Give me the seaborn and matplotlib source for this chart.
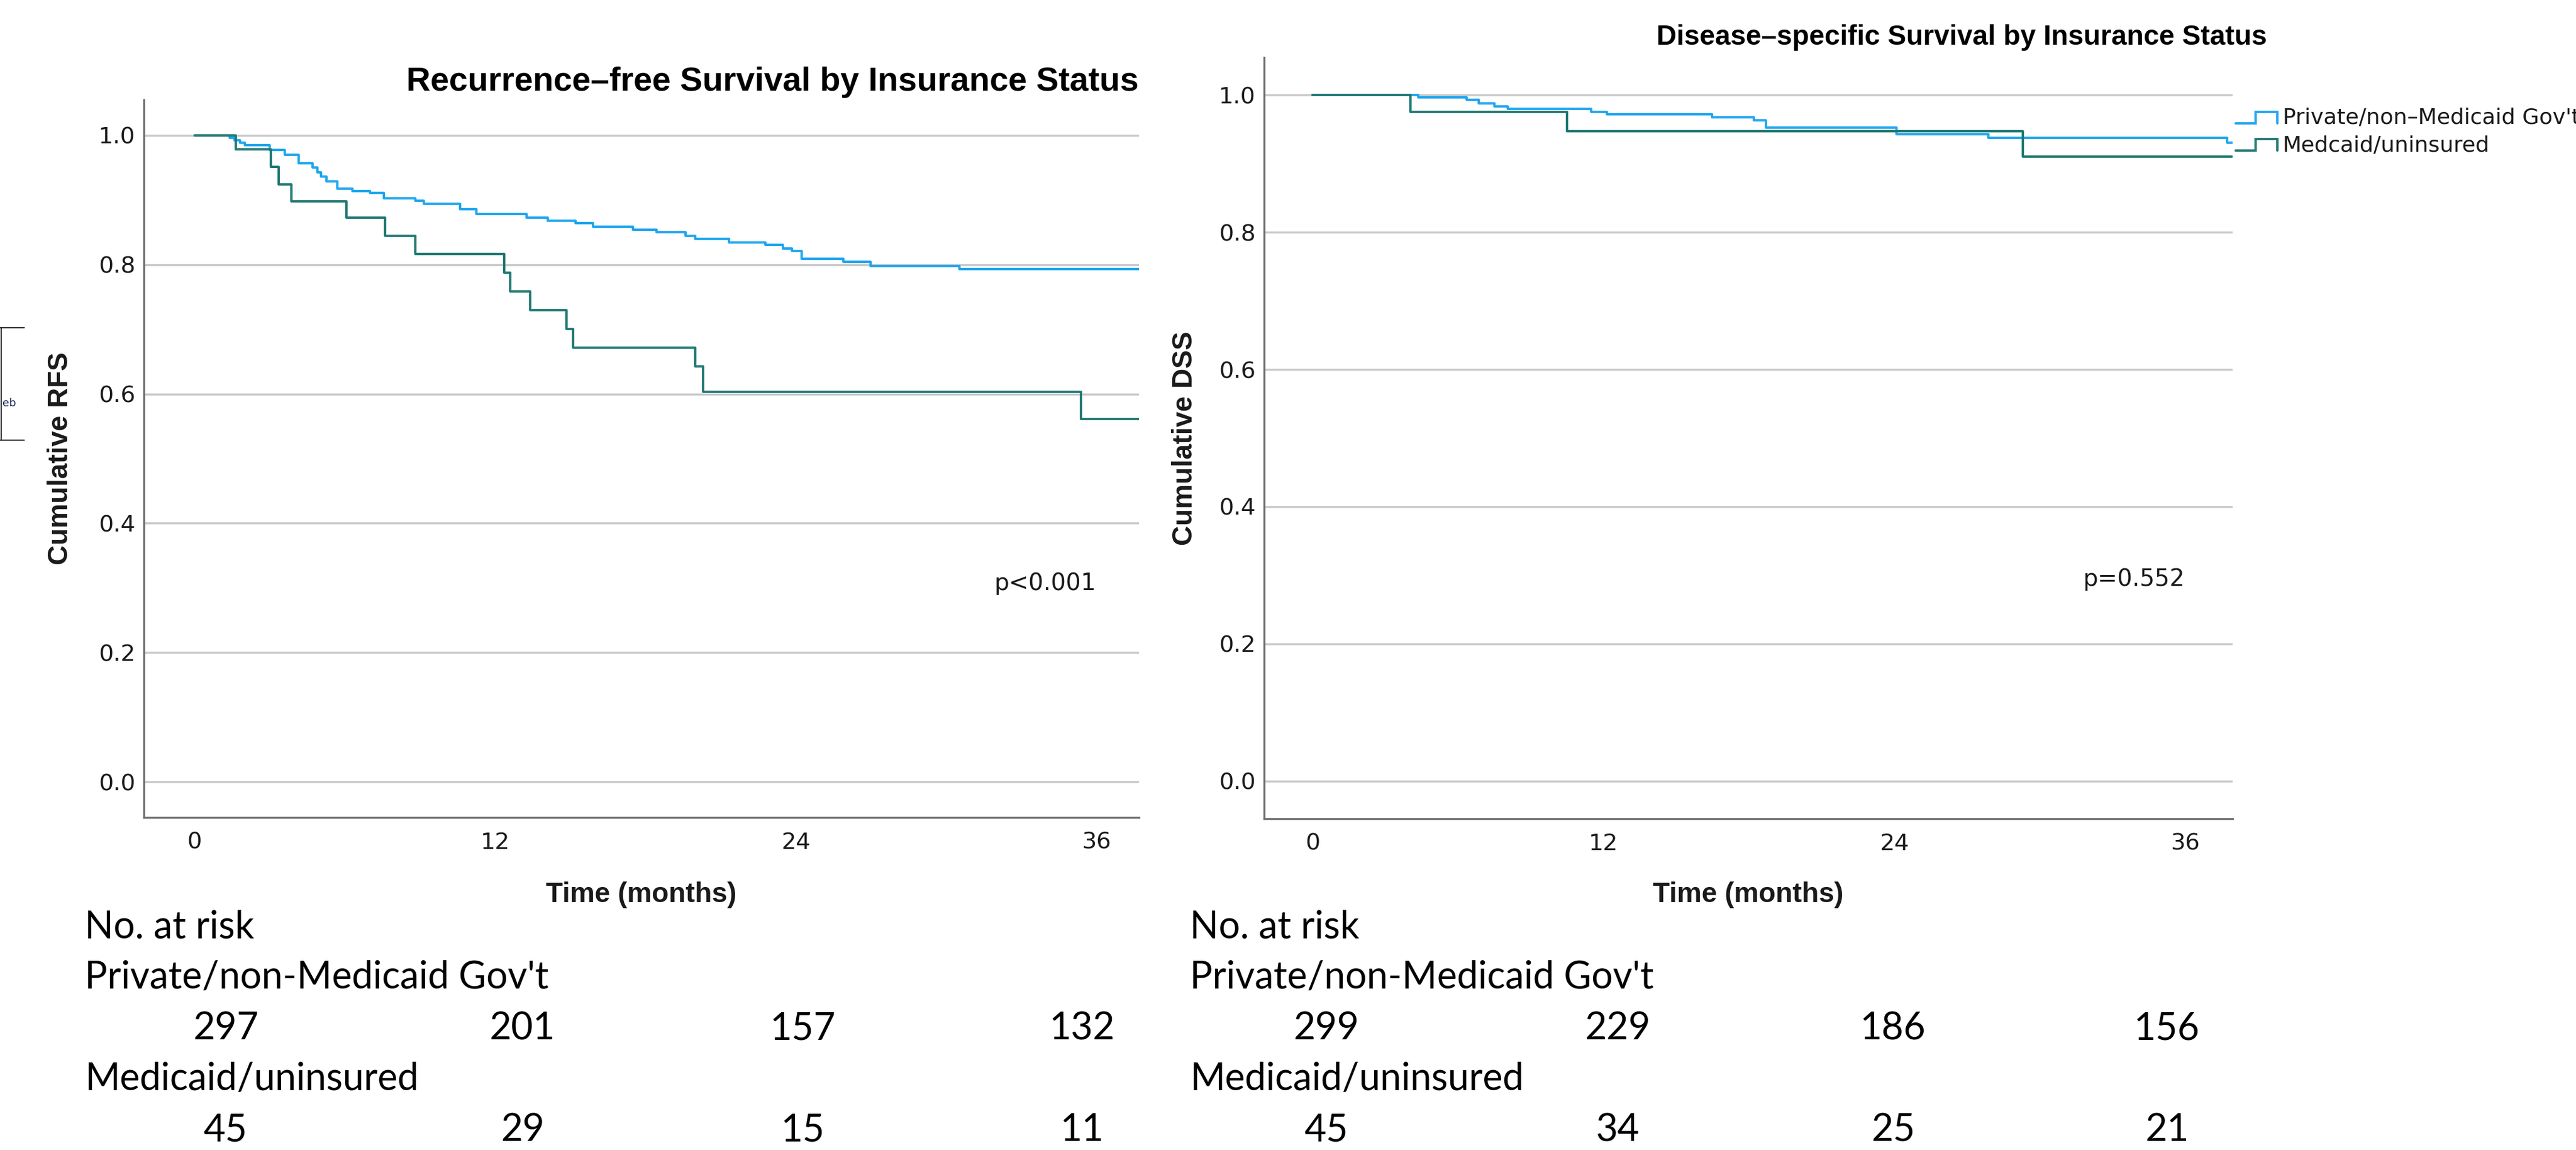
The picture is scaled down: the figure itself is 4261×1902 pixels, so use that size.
import numpy as np
import pandas as pd
import matplotlib
matplotlib.use("Agg")
import matplotlib.pyplot as plt
from matplotlib import font_manager
import seaborn as sns
from matplotlib.legend_handler import HandlerBase
from matplotlib.lines import Line2D

# ---------------- data ----------------
groups = ["Private/non-Medicaid Gov't", "Medicaid/uninsured"]
legend_labels = ["Private/non\u2013Medicaid Gov't", "Medcaid/uninsured"]

# Recurrence-free survival (step function: value holds from time[i] onward)
rfs_private_t = [0, 1.4, 1.6, 1.8, 2.0, 3.0, 3.6, 4.15, 4.7, 4.9, 5.05, 5.25, 5.7, 6.3,
                 7.0, 7.55, 8.8, 9.15, 10.6, 11.25, 13.25, 14.1, 15.2, 15.9, 17.5, 18.45,
                 19.6, 20.0, 21.35, 22.8, 23.5, 23.85, 24.25, 25.9, 27.0, 30.55, 37.7]
rfs_private_s = [1.0, 0.996, 0.992, 0.989, 0.985, 0.977, 0.970, 0.957, 0.950, 0.943, 0.936,
                 0.929, 0.918, 0.914, 0.911, 0.903, 0.899, 0.894, 0.886, 0.878, 0.873, 0.868,
                 0.864, 0.859, 0.854, 0.850, 0.845, 0.840, 0.834, 0.831, 0.825, 0.821, 0.809,
                 0.804, 0.798, 0.793, 0.793]
rfs_medicaid_t = [0, 1.65, 3.05, 3.35, 3.85, 6.05, 7.6, 8.8, 12.35, 12.6, 13.4, 14.85, 15.1,
                  20.0, 20.3, 35.4, 37.7]
rfs_medicaid_s = [1.0, 0.978, 0.951, 0.924, 0.898, 0.873, 0.845, 0.817, 0.788, 0.759, 0.730,
                  0.701, 0.672, 0.643, 0.603, 0.561, 0.561]

# Disease-specific survival
dss_private_t = [0, 4.35, 6.35, 6.85, 7.5, 8.05, 11.5, 12.15, 16.5, 18.2, 18.7, 24.1, 27.9,
                 37.75, 37.95]
dss_private_s = [1.0, 0.9965, 0.993, 0.988, 0.984, 0.9805, 0.976, 0.9725, 0.968, 0.963,
                 0.953, 0.943, 0.938, 0.931, 0.931]
dss_medicaid_t = [0, 4.05, 10.5, 29.3, 37.95]
dss_medicaid_s = [1.0, 0.976, 0.947, 0.910, 0.910]

x_ticks = [0, 12, 24, 36]
y_ticks = [0.0, 0.2, 0.4, 0.6, 0.8, 1.0]

rfs_title = "Recurrence\u2013free Survival by Insurance Status"
dss_title = "Disease\u2013specific Survival by Insurance Status"
rfs_ylabel = "Cumulative RFS"
dss_ylabel = "Cumulative DSS"
xlabel = "Time (months)"
rfs_p = "p<0.001"
dss_p = "p=0.552"

risk_header = "No. at risk"
risk_row_labels = ["Private/non-Medicaid Gov't", "Medicaid/uninsured"]
rfs_risk_private = [297, 201, 157, 132]
rfs_risk_medicaid = [45, 29, 15, 11]
dss_risk_private = [299, 229, 186, 156]
dss_risk_medicaid = [45, 34, 25, 21]

# ---------------- style ----------------
sns.set_style("white")
plt.rcParams["font.family"] = ["DejaVu Sans"]

BLUE = "#1ea6ef"
TEAL = "#1f7872"
GRID = "#c9c9c9"
SPINE = "#6e6e6e"
TXT = "#1a1a1a"

installed = {f.name for f in font_manager.fontManager.ttflist}
if "Liberation Sans Narrow" in installed:
    dss_title_family, dss_title_size = "Liberation Sans Narrow", 38
else:
    dss_title_family, dss_title_size = "Liberation Sans", 33

W, H = 4261, 1902
fig = plt.figure(figsize=(W / 100, H / 100), dpi=100)
fig.patch.set_facecolor("white")


def px(x, y):
    return x / W, 1 - y / H


def km_frame(tp, sp, tm, sm):
    return pd.concat([
        pd.DataFrame({"time": tp, "surv": sp, "group": groups[0]}),
        pd.DataFrame({"time": tm, "surv": sm, "group": groups[1]}),
    ], ignore_index=True)


def style_axes(ax, xlim):
    ax.set_xlim(*xlim)
    ax.set_ylim(-0.055, 1.055)
    ax.set_xticks(x_ticks)
    ax.set_yticks(y_ticks)
    ax.set_xticklabels([str(t) for t in x_ticks])
    ax.set_yticklabels([f"{v:.1f}" for v in y_ticks])
    ax.grid(False)
    ax.yaxis.grid(True, color=GRID, lw=2.5)
    ax.set_axisbelow(True)
    for s in ["top", "right"]:
        ax.spines[s].set_visible(False)
    for s in ["left", "bottom"]:
        ax.spines[s].set_color(SPINE)
        ax.spines[s].set_linewidth(2.4)
    ax.tick_params(axis="both", length=0, labelsize=27.5, colors=TXT)
    ax.tick_params(axis="x", pad=17)
    ax.tick_params(axis="y", pad=10)


lab_font = dict(family="Liberation Sans", fontweight="bold", fontsize=33, color=TXT)

# ---------- left: RFS ----------
ax1 = fig.add_axes([238 / W, 1 - 1352 / H, 1646 / W, 1187 / H])
df1 = km_frame(rfs_private_t, rfs_private_s, rfs_medicaid_t, rfs_medicaid_s)
sns.lineplot(data=df1, x="time", y="surv", hue="group", hue_order=groups,
             palette=[BLUE, TEAL], drawstyle="steps-post", estimator=None,
             linewidth=2.8, legend=False, ax=ax1)
style_axes(ax1, (-2.03, 37.71))
ax1.set_xlabel(xlabel, va="center", **lab_font)
ax1.xaxis.set_label_coords(0.5, -0.108)
ax1.set_ylabel(rfs_ylabel, va="center", **lab_font)
ax1.yaxis.set_label_coords(-0.0838, 0.5)
ax1.text(1.0, 1.0244, rfs_title, transform=ax1.transAxes, ha="right", va="center",
         fontsize=40, family="Liberation Sans", fontweight="bold", color="black")
ax1.text(36, 0.307, rfs_p, ha="right", va="center", fontsize=28, color=TXT)

# ---------- right: DSS ----------
ax2 = fig.add_axes([2091 / W, 1 - 1354 / H, 1602 / W, 1259 / H])
df2 = km_frame(dss_private_t, dss_private_s, dss_medicaid_t, dss_medicaid_s)
sns.lineplot(data=df2, x="time", y="surv", hue="group", hue_order=groups,
             palette=[BLUE, TEAL], drawstyle="steps-post", estimator=None,
             linewidth=2.8, legend=False, ax=ax2)
style_axes(ax2, (-2.0, 37.97))
ax2.set_xlabel(xlabel, va="center", **lab_font)
ax2.xaxis.set_label_coords(0.5, -0.100)
ax2.set_ylabel(dss_ylabel, va="center", **lab_font)
ax2.yaxis.set_label_coords(-0.0818, 0.5)
ax2.text(1.0356, 1.0262, dss_title, transform=ax2.transAxes, ha="right", va="center",
         fontsize=dss_title_size, family=dss_title_family, fontweight="bold", color="black")
ax2.text(36, 0.294, dss_p, ha="right", va="center", fontsize=28, color=TXT)


class StepHandler(HandlerBase):
    def create_artists(self, legend, orig_handle, xdescent, ydescent, width, height,
                       fontsize, trans):
        x0 = -xdescent
        lo = -ydescent + 0.05 * height
        hi = -ydescent + 0.80 * height
        xs = [x0, x0 + 0.48 * width, x0 + 0.48 * width, x0 + width, x0 + width]
        ys = [lo, lo, hi, hi, lo]
        ln = Line2D(xs, ys, color=orig_handle.get_color(), lw=orig_handle.get_linewidth(),
                    transform=trans, solid_joinstyle="miter")
        return [ln]


handles = [Line2D([], [], color=BLUE, lw=2.8), Line2D([], [], color=TEAL, lw=2.8)]
leg = ax2.legend(handles, legend_labels, handler_map={Line2D: StepHandler()},
                 loc="upper left", bbox_to_anchor=px(3698, 178), bbox_transform=fig.transFigure,
                 frameon=False, fontsize=26, handlelength=1.9, handletextpad=0.25,
                 borderpad=0, borderaxespad=0, labelspacing=0.32)
for t in leg.get_texts():
    t.set_color(TXT)

# ---------- number-at-risk tables ----------
risk_font = dict(family="Lato", fontsize=45, color="black", va="baseline")
baselines = [1551, 1635, 1719, 1803, 1887]


def risk_table(x_label, num_x, top, bottom):
    fig.text(*px(x_label, baselines[0]), risk_header, ha="left", **risk_font)
    fig.text(*px(x_label, baselines[1]), risk_row_labels[0], ha="left", **risk_font)
    for xx, n in zip(num_x, top):
        fig.text(*px(xx, baselines[2]), str(n), ha="center", **risk_font)
    fig.text(*px(x_label, baselines[3]), risk_row_labels[1], ha="left", **risk_font)
    for xx, n in zip(num_x, bottom):
        fig.text(*px(xx, baselines[4]), str(n), ha="center", **risk_font)


risk_table(140, [373, 864, 1328, 1790], rfs_risk_private, rfs_risk_medicaid)
risk_table(1968, [2194, 2676, 3131, 3584], dss_risk_private, dss_risk_medicaid)

# ---------- cropped fragment at far left edge ----------
for (xa, ya, xb, yb) in [(0, 542, 40, 542), (0, 728, 40, 728), (2, 542, 2, 728)]:
    fig.add_artist(Line2D([xa / W, xb / W], [1 - ya / H, 1 - yb / H], color="#333333",
                          lw=1.6, transform=fig.transFigure))
fig.text(*px(4, 672), "eb", fontsize=13, color="#1a2a5a", ha="left", va="baseline")

fig.savefig("out.png", dpi=100, facecolor="white")
